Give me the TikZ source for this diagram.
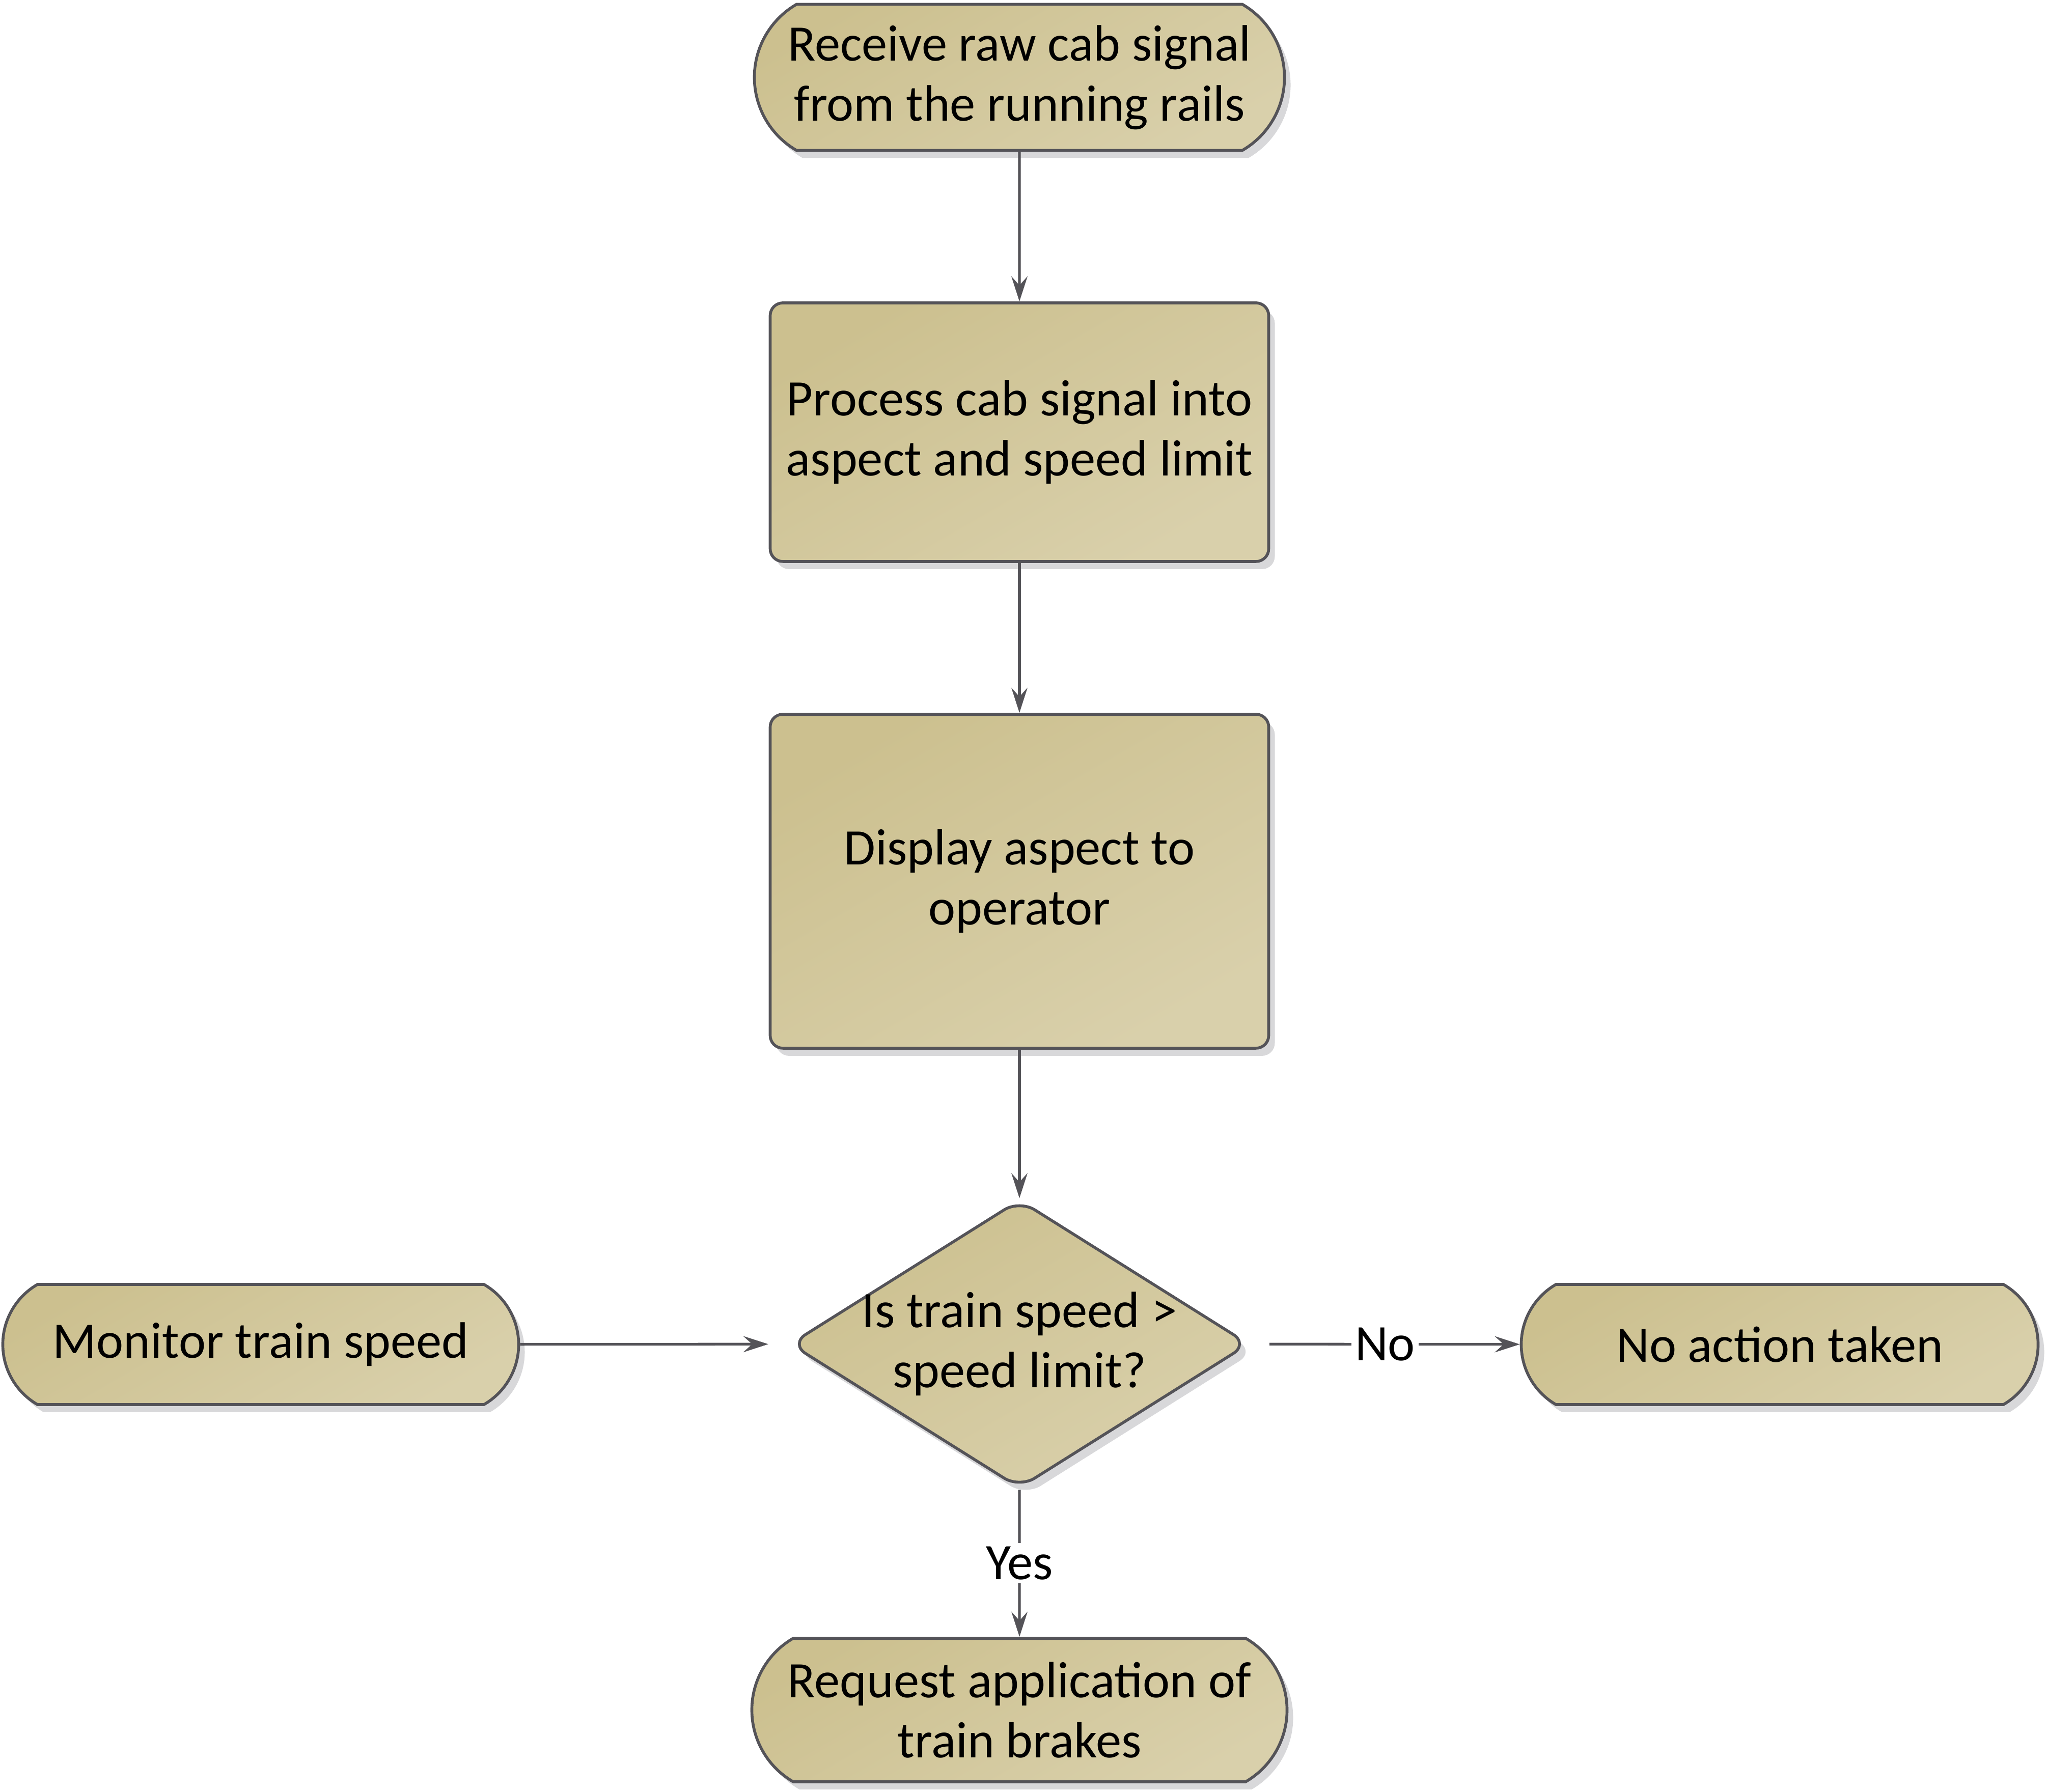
\documentclass[tikz,border=0pt]{standalone}
\usepackage{fontspec}
\setmainfont{Carlito}
\usetikzlibrary{shapes.geometric,shapes.misc,arrows.meta,shadows}

\definecolor{tandark}{HTML}{CCC08F}
\definecolor{tanlight}{HTML}{D9D0AB}
\definecolor{edgegray}{HTML}{545358}
\definecolor{shadowgray}{HTML}{D8D8DA}

\tikzset{
  flowbox/.style={draw=edgegray, line width=1.6pt, top color=tandark, bottom color=tanlight,
    shading angle=30, align=center, inner sep=0pt, font=\fontsize{28.6}{33.6}\selectfont,
    drop shadow={shadow xshift=0.12cm, shadow yshift=-0.15cm, fill=shadowgray, opacity=1}},
  terminal/.style={flowbox, rounded rectangle, rounded rectangle arc length=120},
  processbox/.style={flowbox, rectangle, rounded corners=0.25cm},
  decision/.style={flowbox, diamond, aspect=1.59, inner sep=-0.08cm, rounded corners=0.35cm},
  flow/.style={draw=edgegray, line width=1.5pt, -{Stealth[length=14pt,width=9pt,inset=5pt]}},
  flowlabel/.style={fill=white, inner sep=2pt, font=\fontsize{28.6}{33.6}\selectfont},
}

\begin{document}
\begin{tikzpicture}
    \useasboundingbox (0,0) rectangle (40.2,35.2);
    % Main column
    \node[terminal, minimum width=10.41cm, minimum height=2.87cm] (receive) at (20.02,33.68)
        {Receive raw cab signal\\from the running rails};
    \node[processbox, minimum width=9.79cm, minimum height=5.08cm] (proc) at (20.02,26.71)
        {Process cab signal into\\aspect and speed limit};
    \node[processbox, minimum width=9.79cm, minimum height=6.56cm] (display) at (20.02,17.89)
        {Display aspect to\\operator};
    \node[decision] (check) at (20.02,8.80)
        {Is train speed >\\speed limit?};
    \node[terminal, minimum width=10.51cm, minimum height=2.82cm] (brakes) at (20.02,1.61)
        {Request application of\\train brakes};
    % Side nodes
    \node[terminal, minimum width=10.13cm, minimum height=2.36cm] (monitor) at (5.12,8.79)
        {Monitor train speed};
    \node[terminal, minimum width=10.15cm, minimum height=2.36cm] (noaction) at (34.95,8.79)
        {No action taken};
    % Connectors
    \draw[flow] (receive) -- (proc);
    \draw[flow] (proc) -- (display);
    \draw[flow] (display) -- (check);
    \draw[flow, shorten >=0.4cm] (monitor) -- (check);
    \draw[flow, shorten <=0.38cm] (check) -- node[flowlabel] {No} (noaction);
    \draw[flow] (check) -- node[flowlabel] {Yes} (brakes);
\end{tikzpicture}
\end{document}
